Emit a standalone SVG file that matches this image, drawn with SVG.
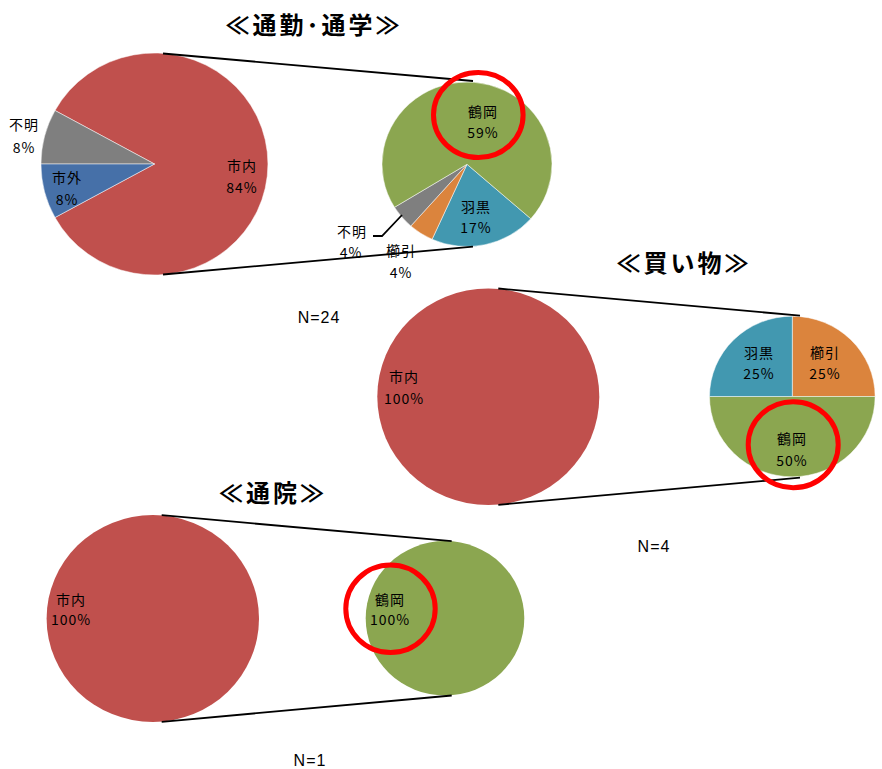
<svg xmlns="http://www.w3.org/2000/svg" width="882" height="769" viewBox="0 0 882 769">
<style>
.bg{fill:#ffffff}
.red{fill:#C0504D}
.gray{fill:#7F7F7F}
.blue{fill:#4670A8}
.green{fill:#8BA650}
.teal{fill:#4298B0}
.orange{fill:#DB843D}
.sl{stroke:#ffffff;stroke-width:0.7;stroke-opacity:0.7}
.ln{stroke:#000;stroke-width:1.8;fill:none}
.ring{fill:none;stroke:#FF0000;stroke-width:5}
.lb{font-family:"Noto Sans CJK JP","Noto Sans",sans-serif;font-size:14px;fill:#000;text-anchor:middle;letter-spacing:1px}
.tt{font-family:"Noto Sans CJK JP",sans-serif;font-size:24px;font-weight:bold;fill:#000;text-anchor:middle;letter-spacing:3px}
.nn{font-family:"Liberation Sans",Arial,sans-serif;font-size:16px;fill:#000;text-anchor:middle;letter-spacing:1px}
</style>
<rect class="bg" x="0" y="0" width="882" height="769"/>

<g id="title-commute"><text class="tt" x="314" y="34">≪通勤･通学≫</text></g>
<g id="title-shopping"><text class="tt" x="684" y="272">≪買い物≫</text></g>
<g id="title-hospital"><text class="tt" x="273" y="502">≪通院≫</text></g>

<g id="pie-commute-main">
<path class="red sl" d="M154.5,164 L55.0,110.5 A113.5,111 0 1,1 55.0,217.5 Z"/>
<path class="gray sl" d="M154.5,164 L41,164 A113.5,111 0 0,1 55.0,110.5 Z"/>
<path class="blue sl" d="M154.5,164 L55.0,217.5 A113.5,111 0 0,1 41,164 Z"/>
</g>

<g id="pie-commute-sub">
<path class="teal sl" d="M467,164.3 L530.8,218.7 A85,82.3 0 0,1 432.1,239.3 Z"/>
<path class="orange sl" d="M467,164.3 L432.1,239.3 A85,82.3 0 0,1 410.8,226.0 Z"/>
<path class="gray sl" d="M467,164.3 L410.8,226.0 A85,82.3 0 0,1 394.5,207.3 Z"/>
<path class="green sl" d="M467,164.3 L394.5,207.3 A85,82.3 0 1,1 530.8,218.7 Z"/>
</g>

<g id="pie-shopping-main">
<ellipse class="red" cx="488.3" cy="396.7" rx="111" ry="108.3"/>
</g>

<g id="pie-shopping-sub">
<path class="orange sl" d="M792.3,396.5 L792.3,316.2 A82.8,80.3 0 0,1 875.1,396.5 Z"/>
<path class="green sl" d="M792.3,396.5 L875.1,396.5 A82.8,80.3 0 0,1 709.5,396.5 Z"/>
<path class="teal sl" d="M792.3,396.5 L709.5,396.5 A82.8,80.3 0 0,1 792.3,316.2 Z"/>
</g>

<g id="pie-hospital-main">
<ellipse class="red" cx="152.8" cy="618.5" rx="106.2" ry="103.5"/>
</g>

<g id="pie-hospital-sub">
<ellipse class="green" cx="445" cy="618.3" rx="79.3" ry="77.3"/>
</g>

<g id="connectors">
<line class="ln" x1="163" y1="53.5" x2="473" y2="81"/>
<line class="ln" x1="163" y1="274.5" x2="473" y2="246.7"/>
<polyline class="ln" points="373,236 382,236 402,215"/>
<line class="ln" x1="498.3" y1="288.5" x2="800" y2="315.7"/>
<line class="ln" x1="498.3" y1="504.8" x2="800" y2="477.7"/>
<line class="ln" x1="161.7" y1="515.2" x2="451.7" y2="541.2"/>
<line class="ln" x1="161.7" y1="721.8" x2="451.7" y2="695.5"/>
</g>

<g id="labels">
<text class="lb" x="24" y="130">不明</text>
<text class="lb" x="24" y="153">8%</text>
<text class="lb" x="67" y="183">市外</text>
<text class="lb" x="67" y="205">8%</text>
<text class="lb" x="242" y="171">市内</text>
<text class="lb" x="242" y="193">84%</text>
<text class="lb" x="483" y="117">鶴岡</text>
<text class="lb" x="483" y="138">59%</text>
<text class="lb" x="476" y="212">羽黒</text>
<text class="lb" x="476" y="233">17%</text>
<text class="lb" x="352" y="237">不明</text>
<text class="lb" x="351" y="258">4%</text>
<text class="lb" x="401" y="256">櫛引</text>
<text class="lb" x="401" y="278">4%</text>
<text class="lb" x="404" y="382">市内</text>
<text class="lb" x="404" y="404">100%</text>
<text class="lb" x="759" y="358">羽黒</text>
<text class="lb" x="759" y="379">25%</text>
<text class="lb" x="825" y="358">櫛引</text>
<text class="lb" x="825" y="379">25%</text>
<text class="lb" x="792" y="444">鶴岡</text>
<text class="lb" x="792" y="466">50%</text>
<text class="lb" x="71" y="605">市内</text>
<text class="lb" x="71" y="625">100%</text>
<text class="lb" x="390" y="605">鶴岡</text>
<text class="lb" x="390" y="625">100%</text>
</g>

<g id="counts">
<text class="nn" x="319" y="322.5">N=24</text>
<text class="nn" x="654" y="551.5">N=4</text>
<text class="nn" x="310" y="765.5">N=1</text>
</g>

<g id="highlights">
<ellipse class="ring" cx="478.3" cy="115" rx="44.8" ry="42.6"/>
<ellipse class="ring" cx="793.2" cy="444.7" rx="45" ry="43"/>
<ellipse class="ring" cx="390.5" cy="608.8" rx="44.7" ry="43.7"/>
</g>
</svg>
